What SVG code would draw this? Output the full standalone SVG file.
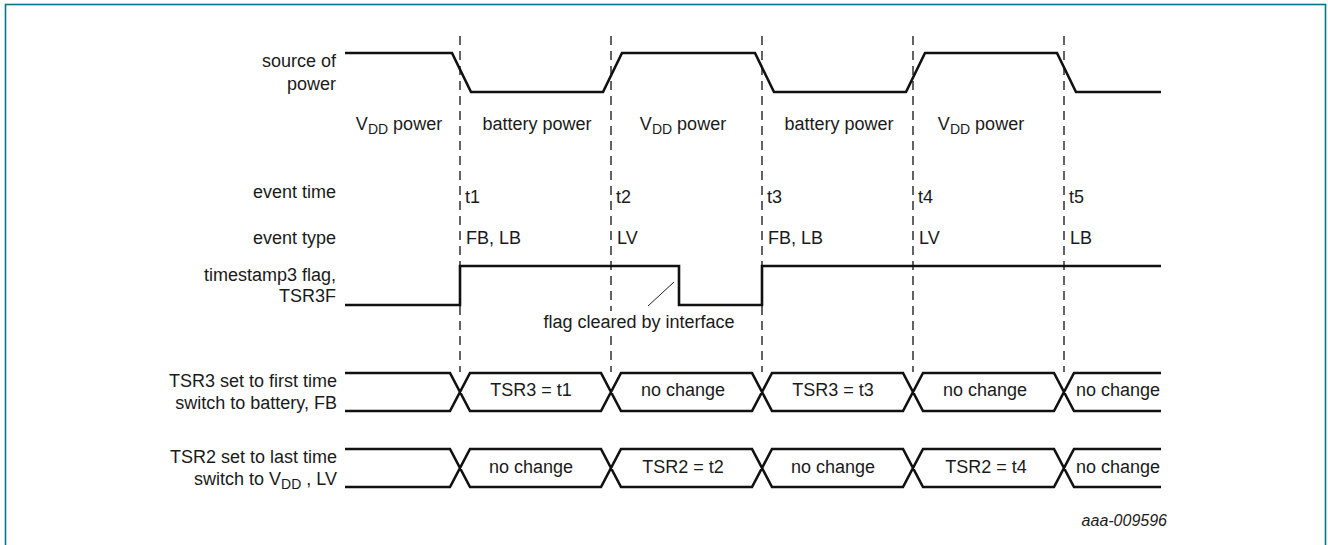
<svg xmlns="http://www.w3.org/2000/svg" width="1328" height="545" viewBox="0 0 1328 545">
<style>
text{font-family:"Liberation Sans",Arial,sans-serif;font-size:18px;fill:#1a1a1a}
.lbl{text-anchor:end}
.mid{text-anchor:middle}
.sig{fill:none;stroke:#111;stroke-width:2.6;stroke-linejoin:miter}
.dash{stroke:#222;stroke-width:1.4;stroke-dasharray:9 6}
.sub{font-size:14px}
</style>
<rect x="5.5" y="4.5" width="1320" height="600" fill="#fff" stroke="#00788a" stroke-width="1.6"/>
<g id="connectors">
<line class="dash" x1="460" y1="36" x2="460" y2="372"/>
<line class="dash" x1="611" y1="36" x2="611" y2="372"/>
<line class="dash" x1="762" y1="36" x2="762" y2="372"/>
<line class="dash" x1="913" y1="36" x2="913" y2="372"/>
<line class="dash" x1="1064" y1="36" x2="1064" y2="372"/>
<line x1="648" y1="306" x2="674" y2="282" stroke="#222" stroke-width="1"/>
</g>
<g id="source-of-power">
<text class="lbl" x="336" y="67">source of</text>
<text class="lbl" x="336" y="90">power</text>
<polyline class="sig" points="345,53 452,53 471,92 603,92 622,53 755,53 774,92 906,92 925,53 1057,53 1076,92 1161,92"/>
<text class="mid" x="399" y="130">V<tspan class="sub" dy="4">DD</tspan><tspan dy="-4"> power</tspan></text>
<text class="mid" x="537" y="130">battery power</text>
<text class="mid" x="683" y="130">V<tspan class="sub" dy="4">DD</tspan><tspan dy="-4"> power</tspan></text>
<text class="mid" x="839" y="130">battery power</text>
<text class="mid" x="981" y="130">V<tspan class="sub" dy="4">DD</tspan><tspan dy="-4"> power</tspan></text>
</g>
<g id="event-time">
<text class="lbl" x="336" y="198">event time</text>
<text x="465" y="203">t1</text>
<text x="616" y="203">t2</text>
<text x="767" y="203">t3</text>
<text x="918" y="203">t4</text>
<text x="1069" y="203">t5</text>
</g>
<g id="event-type">
<text class="lbl" x="336" y="244">event type</text>
<text x="466" y="244">FB, LB</text>
<text x="617" y="244">LV</text>
<text x="768" y="244">FB, LB</text>
<text x="919" y="244">LV</text>
<text x="1070" y="244">LB</text>
</g>
<g id="tsr3f-flag">
<text class="lbl" x="336" y="281">timestamp3 flag,</text>
<text class="lbl" x="336" y="302">TSR3F</text>
<polyline class="sig" points="345,305 460,305 460,266 679,266 679,305 762,305 762,266 1161,266"/>
<rect x="540" y="311" width="198" height="24" fill="#fff"/>
<text class="mid" x="639" y="328">flag cleared by interface</text>
</g>
<g id="tsr3-bus">
<text class="lbl" x="337" y="387">TSR3 set to first time</text>
<text class="lbl" x="337" y="409">switch to battery, FB</text>
<path class="sig" d="M345,373 H450 L470,411 H601 L621,373 H752 L772,411 H903 L923,373 H1054 L1074,411 H1161 M345,411 H450 L470,373 H601 L621,411 H752 L772,373 H903 L923,411 H1054 L1074,373 H1161"/>
<text class="mid" x="531" y="396">TSR3 = t1</text>
<text class="mid" x="683" y="396">no change</text>
<text class="mid" x="833" y="396">TSR3 = t3</text>
<text class="mid" x="985" y="396">no change</text>
<text class="mid" x="1118" y="396">no change</text>
</g>
<g id="tsr2-bus">
<text class="lbl" x="337" y="463">TSR2 set to last time</text>
<text class="lbl" x="337" y="485">switch to V<tspan class="sub" dy="4">DD</tspan><tspan dy="-4"> , LV</tspan></text>
<path class="sig" d="M345,449 H450 L470,487 H601 L621,449 H752 L772,487 H903 L923,449 H1054 L1074,487 H1161 M345,487 H450 L470,449 H601 L621,487 H752 L772,449 H903 L923,487 H1054 L1074,449 H1161"/>
<text class="mid" x="531" y="473">no change</text>
<text class="mid" x="683" y="473">TSR2 = t2</text>
<text class="mid" x="833" y="473">no change</text>
<text class="mid" x="986" y="473">TSR2 = t4</text>
<text class="mid" x="1118" y="473">no change</text>
</g>
<text x="1167" y="526" style="font-size:16px;font-style:italic;text-anchor:end">aaa-009596</text>
</svg>
